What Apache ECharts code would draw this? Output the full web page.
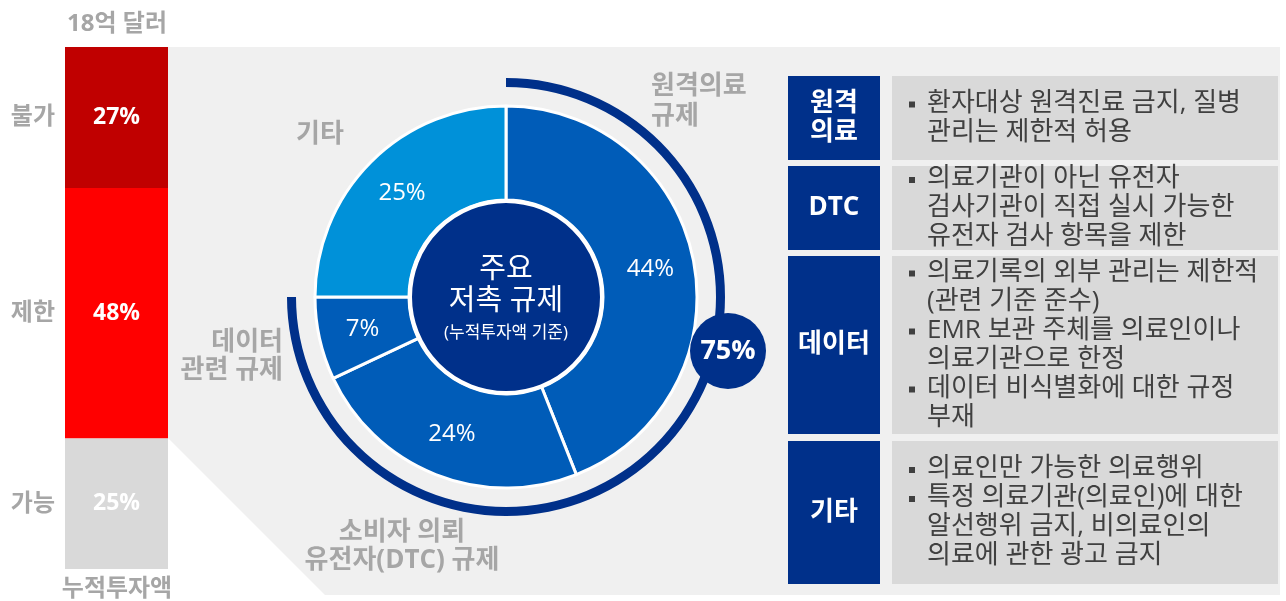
<!DOCTYPE html>
<html>
<head>
<meta charset="utf-8">
<script src="https://cdn.jsdelivr.net/npm/echarts@6/dist/echarts.min.js"></script>
<style>
html, body { margin: 0; padding: 0; background: #fff; }
#chart { width: 1286px; height: 601px; }
</style>
</head>
<body>
<div id="chart"></div>
<script>
// left stacked bar (share of cumulative investment)
var barNames = ['불가', '제한', '가능'];
var barValues = [27, 48, 25];
var barColors = ['#c00000', '#ff0000', '#d9d9d9'];

// donut of main regulations
var pieNames = ['원격의료 규제', '소비자 의뢰 유전자(DTC) 규제', '데이터 관련 규제', '기타'];
var pieValues = [44, 24, 7, 25];
var pieColors = ['#005cb8', '#005cb8', '#005cb8', '#0091d9'];
var arcValues = [75, 25];

// right side table
var tableHeads = ['원격\n의료', 'DTC', '데이터', '기타'];
var tableLines = [
    ['▪환자대상 원격진료 금지, 질병', '관리는 제한적 허용'],
    ['▪의료기관이 아닌 유전자', '검사기관이 직접 실시 가능한', '유전자 검사 항목을 제한'],
    ['▪의료기록의 외부 관리는 제한적', '(관련 기준 준수)', '▪EMR 보관 주체를 의료인이나', '의료기관으로 한정', '▪데이터 비식별화에 대한 규정', '부재'],
    ['▪의료인만 가능한 의료행위', '▪특정 의료기관(의료인)에 대한', '알선행위 금지, 비의료인의', '의료에 관한 광고 금지']
];

var FONT = "'Open Sans', 'Noto Sans CJK KR', sans-serif";
var NAVY = '#00308a';
var GREY_TXT = '#a6a6a6';

let chart = echarts.init(document.getElementById('chart'));

//series for the stacked bar
var barSeries = barValues.map(function (v, i) {
    return {
        name: barNames[i],
        type: 'bar',
        stack: 'total',
        barWidth: '100%',
        itemStyle: { color: barColors[i] },
        label: {
            show: true,
            position: 'inside',
            color: '#fff',
            fontWeight: 'bold',
            fontSize: 23,
            fontFamily: FONT,
            formatter: '{c}%'
        },
        data: [v]
    };
});

var option = {
    animation: false,
    grid: { left: 65, top: 47, width: 103, height: 522 },
    xAxis: { type: 'category', data: [''], show: false },
    yAxis: { type: 'value', min: 0, max: 100, inverse: true, show: false },
    series: barSeries.concat([
        {
            type: 'pie',
            center: [506, 297],
            radius: [97, 191],
            startAngle: 90,
            clockwise: true,
            silent: true,
            z: 3,
            itemStyle: { borderColor: '#fff', borderWidth: 3 },
            label: {
                show: true,
                position: 'inside',
                color: '#fff',
                fontSize: 24,
                fontFamily: FONT,
                formatter: '{c}%'
            },
            labelLine: { show: false },
            data: pieValues.map(function (v, i) {
                return { name: pieNames[i], value: v, itemStyle: { color: pieColors[i] } };
            })
        },
        {
            type: 'pie',
            center: [506, 297],
            radius: [210, 219],
            startAngle: 90,
            clockwise: true,
            silent: true,
            z: 3,
            label: { show: false },
            labelLine: { show: false },
            data: [
                { value: arcValues[0], itemStyle: { color: NAVY } },
                { value: arcValues[1], itemStyle: { color: 'rgba(0,0,0,0)' } }
            ]
        }
    ])
};

chart.setOption(option);

//graphic elements
var g = [];

//grey backdrop
g.push({
    type: 'polygon', z: -10, silent: true,
    shape: { points: [[168, 47], [1280, 47], [1280, 595], [325, 595], [168, 438]] },
    style: { fill: '#f0f0f0' }
});

//bar titles
g.push({ type: 'text', x: 117, y: 24, style: { text: '18억 달러', font: 'bold 24px ' + FONT, fill: GREY_TXT, align: 'center', verticalAlign: 'middle' } });
g.push({ type: 'text', x: 117, y: 589, style: { text: '누적투자액', font: 'bold 24px ' + FONT, fill: GREY_TXT, align: 'center', verticalAlign: 'middle' } });

//category labels next to bar
var acc = 0;
barValues.forEach(function (v, i) {
    var mid = acc + v / 2;
    acc += v;
    var p = chart.convertToPixel({ gridIndex: 0 }, [0, mid]);
    g.push({ type: 'text', x: 55, y: p[1], style: { text: barNames[i], font: 'bold 24px ' + FONT, fill: GREY_TXT, align: 'right', verticalAlign: 'middle' } });
});

//pie outer labels
g.push({ type: 'text', x: 651, y: 102, style: { text: '원격의료\n규제', font: 'bold 26px ' + FONT, lineHeight: 30, fill: GREY_TXT, align: 'left', verticalAlign: 'middle' } });
g.push({ type: 'text', x: 296, y: 135, style: { text: '기타', font: 'bold 26px ' + FONT, fill: GREY_TXT, align: 'left', verticalAlign: 'middle' } });
g.push({ type: 'text', x: 283, y: 357, style: { text: '데이터\n관련 규제', font: 'bold 26px ' + FONT, lineHeight: 28, fill: GREY_TXT, align: 'right', verticalAlign: 'middle' } });
g.push({ type: 'text', x: 402, y: 547, style: { text: '소비자 의뢰\n유전자(DTC) 규제', font: 'bold 26px ' + FONT, lineHeight: 28, fill: GREY_TXT, align: 'center', verticalAlign: 'middle' } });

//center circle
g.push({ type: 'circle', z: 10, silent: true, shape: { cx: 506, cy: 297, r: 96 }, style: { fill: NAVY, stroke: '#fff', lineWidth: 4 } });
g.push({ type: 'text', z: 11, x: 506, y: 286, style: { text: '주요\n저촉 규제', font: '29px ' + FONT, lineHeight: 32, fill: '#fff', align: 'center', verticalAlign: 'middle' } });
g.push({ type: 'text', z: 11, x: 506, y: 333, style: { text: '(누적투자액 기준)', font: '17px ' + FONT, fill: '#fff', align: 'center', verticalAlign: 'middle' } });

//75% badge
g.push({ type: 'circle', z: 10, silent: true, shape: { cx: 728, cy: 351, r: 38 }, style: { fill: NAVY } });
g.push({ type: 'text', z: 11, x: 728, y: 351, style: { text: arcValues[0] + '%', font: 'bold 27px ' + FONT, fill: '#fff', align: 'center', verticalAlign: 'middle' } });

//right table
var rowBox = [[76, 160], [166, 250], [256, 434], [441, 584]];
tableHeads.forEach(function (h, i) {
    var y0 = rowBox[i][0], y1 = rowBox[i][1], cy = (y0 + y1) / 2;
    g.push({ type: 'rect', shape: { x: 788, y: y0, width: 92, height: y1 - y0 }, style: { fill: NAVY } });
    g.push({ type: 'rect', shape: { x: 892, y: y0, width: 386, height: y1 - y0 }, style: { fill: '#d9d9d9' } });
    g.push({ type: 'text', x: 834, y: cy, style: { text: h, font: 'bold 26px ' + FONT, lineHeight: 29, fill: '#fff', align: 'center', verticalAlign: 'middle' } });
    var lines = tableLines[i];
    lines.forEach(function (ln, j) {
        var ly = cy + (j - (lines.length - 1) / 2) * 29;
        var txt = ln;
        if (ln.charAt(0) === '▪') {
            txt = ln.slice(1);
            g.push({ type: 'rect', shape: { x: 909, y: ly - 2, width: 6, height: 6 }, style: { fill: '#404040' } });
        }
        g.push({ type: 'text', x: 927, y: ly, style: { text: txt, font: '26px ' + FONT, fill: '#404040', align: 'left', verticalAlign: 'middle' } });
    });
});

chart.setOption({ graphic: { elements: g } });
</script>
</body>
</html>
